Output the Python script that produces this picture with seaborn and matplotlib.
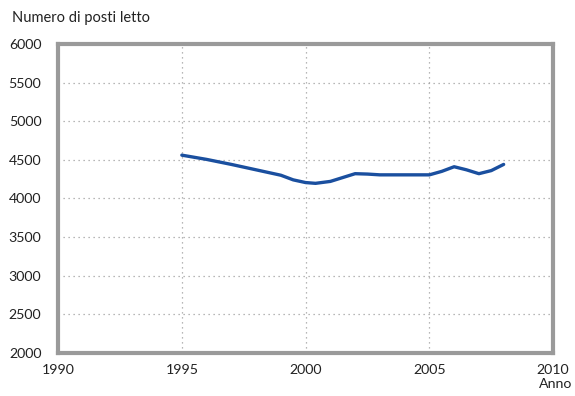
import matplotlib
matplotlib.use('Agg')
import matplotlib.pyplot as plt
import seaborn as sns
import pandas as pd

anni = [1995, 1996, 1997, 1998, 1999, 1999.5, 2000, 2000.4, 2001, 2001.5, 2002,
        2002.5, 2003, 2004, 2005, 2005.5, 2006, 2006.5, 2007, 2007.5, 2008]
posti_letto = [4560, 4505, 4440, 4370, 4300, 4240, 4205, 4195, 4220, 4270, 4320,
               4315, 4305, 4305, 4305, 4350, 4410, 4370, 4320, 4360, 4440]
x_ticks = [1990, 1995, 2000, 2005, 2010]
y_ticks = [2000, 2500, 3000, 3500, 4000, 4500, 5000, 5500, 6000]

df = pd.DataFrame({'anno': anni, 'posti': posti_letto})

sns.set_style('white')
plt.rcParams['font.family'] = ['Lato', 'DejaVu Sans']

fig = plt.figure(figsize=(5.75, 3.96), dpi=100)
ax = fig.add_axes([0.101, 0.109, 0.861, 0.78])

sns.lineplot(data=df, x='anno', y='posti', ax=ax, color='#1a4f9f', linewidth=2.4)

ax.set_xlim(1990, 2010)
ax.set_ylim(2000, 6000)
ax.set_xticks(x_ticks)
ax.set_yticks(y_ticks)
ax.set_xticklabels([str(t) for t in x_ticks])
ax.set_yticklabels([str(t) for t in y_ticks])
ax.grid(True, linestyle=(0, (1, 3)), color='#a0a0a0', linewidth=0.9)
ax.tick_params(axis='both', length=0, labelsize=10.2, colors='#222222')
ax.tick_params(axis='x', pad=8)
ax.tick_params(axis='y', pad=12)
for s in ax.spines.values():
    s.set_color('#9a9a9a')
    s.set_linewidth(3)
ax.set_xlabel('')
ax.set_ylabel('')

fig.text(0.02, 0.955, 'Numero di posti letto', fontsize=10.5, color='#222222', va='center')
fig.text(0.967, 0.015, 'Anno', fontsize=10.2, color='#222222', ha='center', va='bottom')

fig.savefig('out.png', dpi=100)
